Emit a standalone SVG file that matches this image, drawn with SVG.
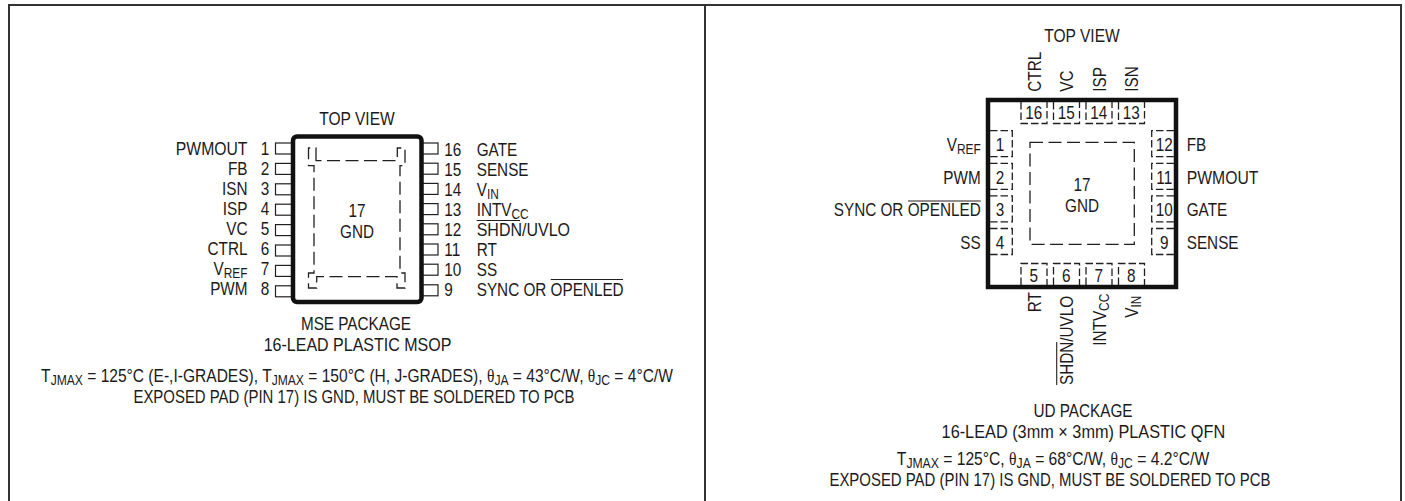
<svg xmlns="http://www.w3.org/2000/svg" width="1405" height="501" viewBox="0 0 1405 501">
<style>
text{font-family:"Liberation Sans",Arial,sans-serif;font-size:18px;fill:#1c1a1b}
.e{text-anchor:end}.m{text-anchor:middle}
.s{font-size:14px}
.t{font-family:"Liberation Serif",serif}
.f{fill:none;stroke:#333;stroke-width:2}
.b{fill:#fff;stroke:#111;stroke-width:4.5}
.d{fill:none;stroke:#231f20;stroke-width:1.3;stroke-dasharray:13 5.5}
.q{fill:none;stroke:#231f20;stroke-width:1.3;stroke-dasharray:7.5 3}
.p{fill:#fff;stroke:#231f20;stroke-width:1.2}
.o{stroke:#231f20;stroke-width:1.1;fill:none}
</style>
<rect width="1405" height="501" fill="#fff"/>
<path id="frame" class="f" d="M9 501V5H1401V501M705 5V501"/>

<g id="mse-package">
<text class="m" transform="matrix(.864 0 0 1 357 125)">TOP VIEW</text>
<g id="mse-pin-1"><rect class="p" x="275.5" y="143" width="18" height="11"/><text class="m" transform="matrix(.85 0 0 1 265 154.5)">1</text><text class="e" transform="matrix(.875 0 0 1 247.5 154.5)">PWMOUT</text></g>
<g id="mse-pin-2"><rect class="p" x="275.5" y="163.4" width="18" height="11"/><text class="m" transform="matrix(.85 0 0 1 265 174.6)">2</text><text class="e" transform="matrix(.85 0 0 1 247.5 174.6)">FB</text></g>
<g id="mse-pin-3"><rect class="p" x="275.5" y="183.8" width="18" height="11"/><text class="m" transform="matrix(.85 0 0 1 265 194.7)">3</text><text class="e" transform="matrix(.85 0 0 1 247.5 194.7)">ISN</text></g>
<g id="mse-pin-4"><rect class="p" x="275.5" y="204.2" width="18" height="11"/><text class="m" transform="matrix(.85 0 0 1 265 214.8)">4</text><text class="e" transform="matrix(.85 0 0 1 247.5 214.8)">ISP</text></g>
<g id="mse-pin-5"><rect class="p" x="275.5" y="224.6" width="18" height="11"/><text class="m" transform="matrix(.85 0 0 1 265 234.9)">5</text><text class="e" transform="matrix(.85 0 0 1 247.5 234.9)">VC</text></g>
<g id="mse-pin-6"><rect class="p" x="275.5" y="245" width="18" height="11"/><text class="m" transform="matrix(.85 0 0 1 265 255)">6</text><text class="e" transform="matrix(.85 0 0 1 247.5 255)">CTRL</text></g>
<g id="mse-pin-7"><rect class="p" x="275.5" y="265.4" width="18" height="11"/><text class="m" transform="matrix(.85 0 0 1 265 275)">7</text><text class="e" transform="matrix(.85 0 0 1 247.5 275)">V<tspan class="s" dy="3">REF</tspan></text></g>
<g id="mse-pin-8"><rect class="p" x="275.5" y="285.8" width="18" height="11"/><text class="m" transform="matrix(.85 0 0 1 265 295)">8</text><text class="e" transform="matrix(.85 0 0 1 247.5 295)">PWM</text></g>

<g id="mse-pin-16"><rect class="p" x="421" y="143" width="17" height="11"/><text transform="matrix(.85 0 0 1 444.3 155.5)">16</text><text transform="matrix(.85 0 0 1 476.7 155.5)">GATE</text></g>
<g id="mse-pin-15"><rect class="p" x="421" y="163.2" width="17" height="11"/><text transform="matrix(.85 0 0 1 444.3 175.5)">15</text><text transform="matrix(.85 0 0 1 476.7 175.5)">SENSE</text></g>
<g id="mse-pin-14"><rect class="p" x="421" y="183.4" width="17" height="11"/><text transform="matrix(.85 0 0 1 444.3 195.5)">14</text><text transform="matrix(.85 0 0 1 476.7 195.5)">V<tspan class="s" dy="3">IN</tspan></text></g>
<g id="mse-pin-13"><rect class="p" x="421" y="203.6" width="17" height="11"/><text transform="matrix(.85 0 0 1 444.3 215.5)">13</text><text transform="matrix(.85 0 0 1 476.7 215.5)">INTV<tspan class="s" dy="3">CC</tspan></text></g>
<g id="mse-pin-12"><rect class="p" x="421" y="223.8" width="17" height="11"/><text transform="matrix(.85 0 0 1 444.3 235.5)">12</text><text transform="matrix(.89 0 0 1 476.7 235.5)">SHDN/UVLO</text><path class="o" d="M476.7 220.5H520"/></g>
<g id="mse-pin-11"><rect class="p" x="421" y="244" width="17" height="11"/><text transform="matrix(.85 0 0 1 444.3 255.5)">11</text><text transform="matrix(.85 0 0 1 476.7 255.5)">RT</text></g>
<g id="mse-pin-10"><rect class="p" x="421" y="264.2" width="17" height="11"/><text transform="matrix(.85 0 0 1 444.3 275.5)">10</text><text transform="matrix(.85 0 0 1 476.7 275.5)">SS</text></g>
<g id="mse-pin-9"><rect class="p" x="421" y="284.8" width="17" height="11"/><text transform="matrix(.85 0 0 1 444.3 295.5)">9</text><text transform="matrix(.85 0 0 1 476.7 295.5)">SYNC OR OPENLED</text><path class="o" d="M550.7 279.5H623"/></g>

<g id="mse-body"><rect class="b" x="293" y="136.5" width="128.5" height="165.5" rx="4"/>
<path class="d" d="M316 160.7V148H308.5V165.7H314V273H308.5V288H316.7V276.7H397V288H405V273H400V165.7H405V148H397.3V160.7Z"/>
<text class="m" transform="matrix(.85 0 0 1 357 216.7)">17</text><text class="m" transform="matrix(.85 0 0 1 357 237.7)">GND</text></g>

<g id="mse-notes">
<text class="m" transform="matrix(.85 0 0 1 356 330)">MSE PACKAGE</text>
<text class="m" transform="matrix(.89 0 0 1 357.5 351)">16-LEAD PLASTIC MSOP</text>
<text class="m" transform="matrix(.865 0 0 1 357 382)">T<tspan class="s" dy="3">JMAX</tspan><tspan dy="-3"> = 125°C (E-,I-GRADES), T</tspan><tspan class="s" dy="3">JMAX</tspan><tspan dy="-3"> = 150°C (H, J-GRADES), </tspan><tspan class="t">θ</tspan><tspan class="s" dy="3">JA</tspan><tspan dy="-3"> = 43°C/W, </tspan><tspan class="t">θ</tspan><tspan class="s" dy="3">JC</tspan><tspan dy="-3"> = 4°C/W</tspan></text>
<text class="m" transform="matrix(.83 0 0 1 354 403)">EXPOSED PAD (PIN 17) IS GND, MUST BE SOLDERED TO PCB</text>
</g>
</g>

<g id="ud-package">
<text class="m" transform="matrix(.864 0 0 1 1082 41.5)">TOP VIEW</text>
<g id="ud-body"><rect x="988" y="100" width="188" height="187" fill="#fff" stroke="#111" stroke-width="4.5"/>
<path class="d" d="M1030 142.3H1134.3V244.3H1030Z"/>
<text class="m" transform="matrix(.85 0 0 1 1082 190.5)">17</text><text class="m" transform="matrix(.85 0 0 1 1082 211.5)">GND</text></g>

<g id="ud-pin-16"><path class="q" d="M1021 102V123.5H1047V102"/><text class="m" transform="matrix(.85 0 0 1 1033.7 119)">16</text><text transform="matrix(0 -.85 1 0 1041 91.7)">CTRL</text></g>
<g id="ud-pin-15"><path class="q" d="M1053.5 102V123.5H1079.5V102"/><text class="m" transform="matrix(.85 0 0 1 1066.2 119)">15</text><text transform="matrix(0 -.85 1 0 1073.3 91.7)">VC</text></g>
<g id="ud-pin-14"><path class="q" d="M1086 102V123.5H1112V102"/><text class="m" transform="matrix(.85 0 0 1 1098.7 119)">14</text><text transform="matrix(0 -.85 1 0 1106 91.7)">ISP</text></g>
<g id="ud-pin-13"><path class="q" d="M1118.5 102V123.5H1144.5V102"/><text class="m" transform="matrix(.85 0 0 1 1131.2 119)">13</text><text transform="matrix(0 -.85 1 0 1138 91.7)">ISN</text></g>

<g id="ud-pin-1"><path class="q" d="M990 130.7H1012.3V156.7H990"/><text class="m" transform="matrix(.85 0 0 1 1000 151)">1</text><text class="e" transform="matrix(.85 0 0 1 980.7 151)">V<tspan class="s" dy="3">REF</tspan></text></g>
<g id="ud-pin-2"><path class="q" d="M990 163.3H1012.3V189.3H990"/><text class="m" transform="matrix(.85 0 0 1 1000 183.5)">2</text><text class="e" transform="matrix(.85 0 0 1 980.7 183.5)">PWM</text></g>
<g id="ud-pin-3"><path class="q" d="M990 195.9H1012.3V221.9H990"/><text class="m" transform="matrix(.85 0 0 1 1000 216)">3</text><text class="e" transform="matrix(.85 0 0 1 980.7 216)">SYNC OR OPENLED</text><path class="o" d="M908 201H980.7"/></g>
<g id="ud-pin-4"><path class="q" d="M990 228.5H1012.3V254.5H990"/><text class="m" transform="matrix(.85 0 0 1 1000 248.5)">4</text><text class="e" transform="matrix(.85 0 0 1 980.7 248.5)">SS</text></g>

<g id="ud-pin-12"><path class="q" d="M1174 130.7H1151.7V156.7H1174"/><text class="m" transform="matrix(.85 0 0 1 1164.3 151)">12</text><text transform="matrix(.85 0 0 1 1186.7 151)">FB</text></g>
<g id="ud-pin-11"><path class="q" d="M1174 163.3H1151.7V189.3H1174"/><text class="m" transform="matrix(.85 0 0 1 1164.3 183.5)">11</text><text transform="matrix(.875 0 0 1 1186.7 183.5)">PWMOUT</text></g>
<g id="ud-pin-10"><path class="q" d="M1174 195.9H1151.7V221.9H1174"/><text class="m" transform="matrix(.85 0 0 1 1164.3 216)">10</text><text transform="matrix(.85 0 0 1 1186.7 216)">GATE</text></g>
<g id="ud-pin-9"><path class="q" d="M1174 228.5H1151.7V254.5H1174"/><text class="m" transform="matrix(.85 0 0 1 1164.3 248.5)">9</text><text transform="matrix(.85 0 0 1 1186.7 248.5)">SENSE</text></g>

<g id="ud-pin-5"><path class="q" d="M1021 285V263.5H1047V285"/><text class="m" transform="matrix(.85 0 0 1 1033.7 281.5)">5</text><text transform="matrix(0 -.85 1 0 1041 312.3)">RT</text></g>
<g id="ud-pin-6"><path class="q" d="M1053.5 285V263.5H1079.5V285"/><text class="m" transform="matrix(.85 0 0 1 1066.2 281.5)">6</text><text transform="matrix(0 -.85 1 0 1073.3 385)">SHDN/UVLO</text><path class="o" d="M1056.7 385V342"/></g>
<g id="ud-pin-7"><path class="q" d="M1086 285V263.5H1112V285"/><text class="m" transform="matrix(.85 0 0 1 1098.7 281.5)">7</text><text transform="matrix(0 -.85 1 0 1106 345.7)">INTV<tspan class="s" dy="3">CC</tspan></text></g>
<g id="ud-pin-8"><path class="q" d="M1118.5 285V263.5H1144.5V285"/><text class="m" transform="matrix(.85 0 0 1 1131.2 281.5)">8</text><text transform="matrix(0 -.85 1 0 1138 317.7)">V<tspan class="s" dy="3">IN</tspan></text></g>

<g id="ud-notes">
<text class="m" transform="matrix(.85 0 0 1 1083 416.7)">UD PACKAGE</text>
<text class="m" transform="matrix(.905 0 0 1 1083.4 437.7)">16-LEAD (3mm × 3mm) PLASTIC QFN</text>
<text class="m" transform="matrix(.87 0 0 1 1053 465)">T<tspan class="s" dy="3">JMAX</tspan><tspan dy="-3"> = 125°C, </tspan><tspan class="t">θ</tspan><tspan class="s" dy="3">JA</tspan><tspan dy="-3"> = 68°C/W, </tspan><tspan class="t">θ</tspan><tspan class="s" dy="3">JC</tspan><tspan dy="-3"> = 4.2°C/W</tspan></text>
<text class="m" transform="matrix(.83 0 0 1 1050 486)">EXPOSED PAD (PIN 17) IS GND, MUST BE SOLDERED TO PCB</text>
</g>
</g>
</svg>
